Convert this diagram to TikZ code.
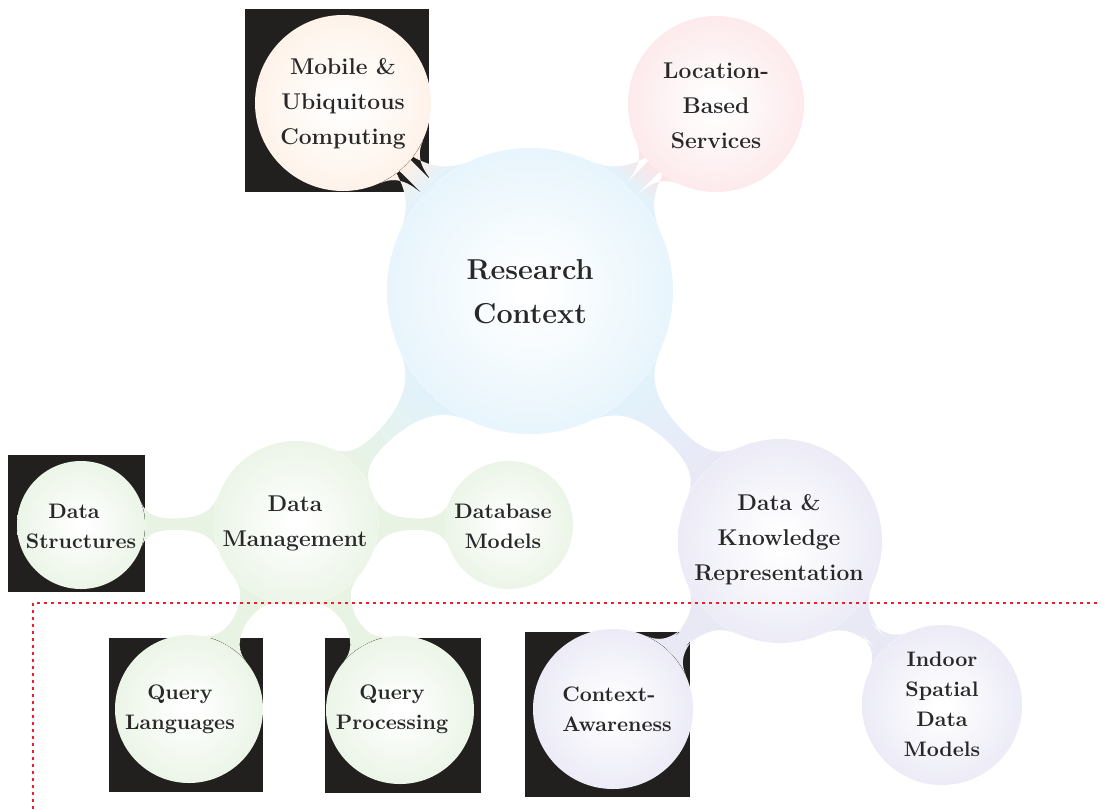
\documentclass[tikz,border=0pt]{standalone}
\usetikzlibrary{mindmap}
\definecolor{rcblue}{RGB}{218,239,250}
\definecolor{mobor}{RGB}{253,236,222}
\definecolor{locred}{RGB}{251,222,225}
\definecolor{dmgreen}{RGB}{224,239,218}
\definecolor{dkviolet}{RGB}{225,224,242}
\colorlet{barblue}{rcblue!80!white}
\colorlet{barmob}{mobor!80!white}
\colorlet{barloc}{locred!80!white}
\colorlet{bargreen}{dmgreen!72!white}
\colorlet{barviolet}{dkviolet!72!white}
\definecolor{boxblack}{RGB}{34,32,30}
\definecolor{txt}{RGB}{40,40,40}
\definecolor{dotred}{RGB}{236,32,44}
\colorlet{mmout}{rcblue}
\pgfdeclareradialshading[mmout]{softball}{\pgfpoint{0bp}{0bp}}{color(0bp)=(white); color(2bp)=(white); color(38bp)=(mmout); color(50bp)=(mmout)}
\pgfdeclarelayer{boxes}
\pgfdeclarelayer{bars}
\pgfsetlayers{boxes,bars,main}
\tikzset{
  ballcol/.code={\colorlet{mmout}{#1}},
  ball/.style={circle, inner sep=0pt, minimum size=#1pt, shading=softball, draw=none},
  blackbox/.style={fill=boxblack},
  lblroot/.style={text=txt, align=center, font=\fontsize{14.4}{22}\selectfont\bfseries},
  lblone/.style={text=txt, align=center, font=\fontsize{11.4}{17.5}\selectfont\bfseries},
  lbltwo/.style={text=txt, align=center, font=\fontsize{10.5}{15}\selectfont\bfseries},
  redframe/.style={draw=dotred, line width=1.3pt, dash pattern=on 1.3pt off 2.2pt},
}
\begin{document}
\begin{tikzpicture}[x=0.5pt, y=0.5pt]
\useasboundingbox (0,0) rectangle (1101,-809);
% circles
\node[ball=143, ballcol=rcblue] (rc) at (530,-291) {};
\node[ball=88, ballcol=mobor] (mob) at (343,-103) {};
\node[ball=88, ballcol=locred] (loc) at (716,-104) {};
\node[ball=82, ballcol=dmgreen] (dm) at (296,-523) {};
\node[ball=102, ballcol=dkviolet] (dk) at (780,-541) {};
\node[ball=64, ballcol=dmgreen] (ds) at (81,-525) {};
\node[ball=64, ballcol=dmgreen] (db) at (509,-525) {};
\node[ball=74, ballcol=dmgreen] (ql) at (189,-709) {};
\node[ball=74, ballcol=dmgreen] (qp) at (400,-710) {};
\node[ball=80, ballcol=dkviolet] (ca) at (613,-709) {};
\node[ball=80, ballcol=dkviolet] (isd) at (942,-705) {};
% labels
\node[lblroot] (rct) at (530,-292) {Research\\Context};
\node[lblone] (mobt) at (343,-104) {Mobile \&\\Ubiquitous\\Computing};
\node[lblone] (loct) at (716,-106) {Location-\\Based\\Services};
\node[lblone] (dmt) at (295,-523) {Data\\Management};
\node[lblone] (dkt) at (779,-540) {Data \&\\Knowledge\\Representation};
\node[lbltwo] (dst) at (81,-526) {\hspace*{-7pt}Data\\Structures};
\node[lbltwo] (dbt) at (503,-526) {Database\\Models};
\node[lbltwo] (qlt) at (180,-709) {Query\\Languages};
\node[lbltwo] (qpt) at (392,-709) {Query\\Processing};
\node[lbltwo, align=left, anchor=west, inner sep=0pt] (cat) at (562,-709) {Context-\\Awareness};
\node[lbltwo] (isdt) at (942,-704) {Indoor\\Spatial\\Data\\Models};
% connectors
\begin{pgfonlayer}{bars}
\path (rc) to[circle connection bar switch color=from (barblue) to (barmob)] (mob);
\path (rc) to[circle connection bar switch color=from (barblue) to (barloc)] (loc);
\path (rc) to[circle connection bar switch color=from (barblue) to (bargreen)] (dm);
\path (rc) to[circle connection bar switch color=from (barblue) to (barviolet)] (dk);
\path (dm) to[circle connection bar switch color=from (bargreen) to (bargreen)] (ds);
\path (dm) to[circle connection bar switch color=from (bargreen) to (bargreen)] (db);
\path (dm) to[circle connection bar switch color=from (bargreen) to (bargreen)] (ql);
\path (dm) to[circle connection bar switch color=from (bargreen) to (bargreen)] (qp);
\path (dk) to[circle connection bar switch color=from (barviolet) to (barviolet)] (ca);
\path (dk) to[circle connection bar switch color=from (barviolet) to (barviolet)] (isd);
\end{pgfonlayer}
% black squares
\begin{pgfonlayer}{boxes}
\fill[blackbox] (245,-9) rectangle (429,-192);
\fill[blackbox] (8,-455) rectangle (145,-592);
\fill[blackbox] (109,-638) rectangle (263,-792);
\fill[blackbox] (325,-638) rectangle (481,-793);
\fill[blackbox] (525,-632) rectangle (690,-797);
\end{pgfonlayer}
% red dotted frame
\coordinate (fa) at (33,-809);
\coordinate (fb) at (33,-603);
\coordinate (fc) at (1101,-603);
\draw[redframe] (fa) -- (fb) -- (fc);
\end{tikzpicture}
\end{document}
